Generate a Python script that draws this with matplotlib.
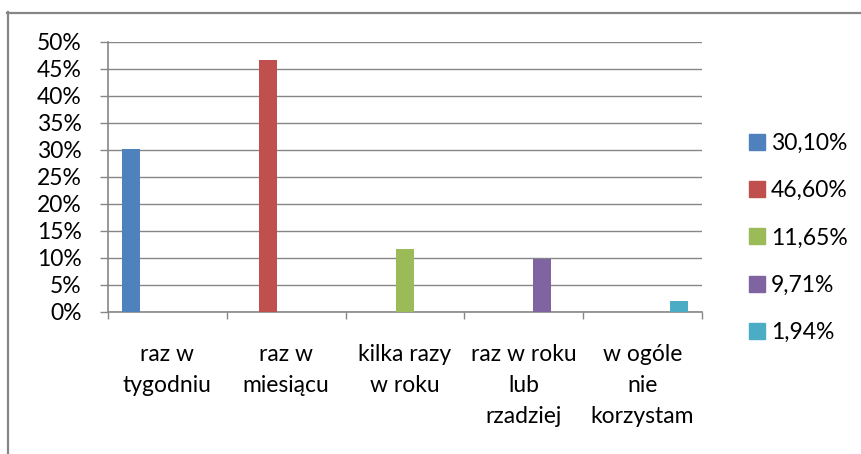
import matplotlib
matplotlib.use("Agg")
import matplotlib.pyplot as plt
import matplotlib.lines as mlines
import numpy as np

# ── Data ──────────────────────────────────────────────────────────────────────
categories = ["raz w\ntygodniu", "raz w\nmiesiącu", "kilka razy\nw roku",
              "raz w roku\nlub\nrzadziej", "w ogóle\nnie\nkorzystam"]
values = [30.10, 46.60, 11.65, 9.71, 1.94]
series_labels = ["30,10%", "46,60%", "11,65%", "9,71%", "1,94%"]
colors = ["#4F81BD", "#C0504D", "#9BBB59", "#8064A2", "#4BACC6"]
y_ticks = list(range(0, 51, 5))

GRID = "#868686"
FONT = "Lato"
FS = 16.5

plt.rcParams["font.family"] = FONT

W, H = 861, 454
fig = plt.figure(figsize=(W / 100, H / 100), dpi=100)
fig.patch.set_facecolor("white")

# plot area (pixel coords from reference)
left, right, top, bottom = 108, 702, 41.7, 311.7
ax = fig.add_axes([left / W, 1 - bottom / H, (right - left) / W, (bottom - top) / H])

# Excel-style clustered columns: each series sits in its own slot
n = len(values)
bw = 1 / (n + 1.5)
for j, (v, c, lab) in enumerate(zip(values, colors, series_labels)):
    x = j + 0.75 * bw + (j + 0.5) * bw
    ax.bar(x, v, width=bw, color=c, label=lab, zorder=3)

ax.set_xlim(0, n)
ax.set_ylim(0, 50)

ax.set_yticks(y_ticks)
ax.set_yticklabels([f"{t}%" for t in y_ticks], fontsize=FS)
ax.tick_params(axis="y", length=5.8, width=1, color=GRID, pad=13)

ax.set_xticks(range(n + 1))
ax.set_xticklabels([])
ax.set_xticks([i + 0.5 for i in range(n)], minor=True)
ax.set_xticklabels(categories, minor=True, fontsize=FS, linespacing=1.6)
ax.tick_params(axis="x", which="major", length=5, width=1, color=GRID)
ax.tick_params(axis="x", which="minor", length=0, pad=23)

ax.yaxis.grid(True, color=GRID, linewidth=1, zorder=0)
ax.set_axisbelow(True)
for s in ["top", "right"]:
    ax.spines[s].set_visible(False)
for s in ["left", "bottom"]:
    ax.spines[s].set_color(GRID)
    ax.spines[s].set_linewidth(1.2)

handles = [mlines.Line2D([], [], linestyle="none", marker="s", markersize=11,
                         markerfacecolor=c, markeredgecolor=c) for c in colors]
fig.legend(handles, series_labels, loc="center left",
           bbox_to_anchor=(738 / W, 1 - 238 / H), frameon=False,
           fontsize=FS, handlelength=0.7, handletextpad=0.25,
           labelspacing=1.15, borderpad=0)

# outer chart frame (only top and left edges visible)
fig.add_artist(mlines.Line2D([7.5 / W, 7.5 / W], [0, 1 - 12 / H],
                             color=GRID, linewidth=1.6, transform=fig.transFigure))
fig.add_artist(mlines.Line2D([7 / W, 1], [1 - 12.5 / H, 1 - 12.5 / H],
                             color=GRID, linewidth=1.6, transform=fig.transFigure))

fig.savefig("out.png", dpi=100)
